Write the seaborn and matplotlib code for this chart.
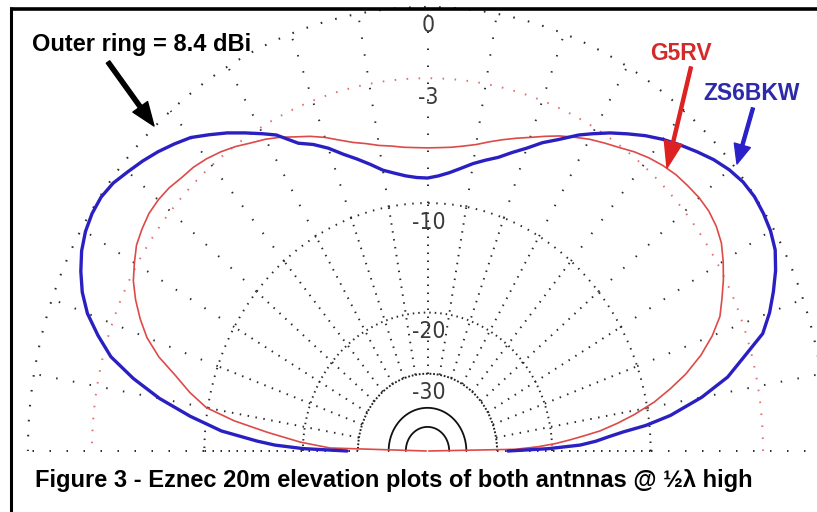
import numpy as np
import matplotlib
matplotlib.use("Agg")
import matplotlib.pyplot as plt
from matplotlib.lines import Line2D
import seaborn as sns
import pandas as pd

# ---------------- data (elevation angle in degrees, gain in dB relative to 8.4 dBi) ----------------
zs_angles = [0, 1, 2, 3, 4, 5, 6, 7.5, 10, 12.5, 15, 17.5, 20, 22.5, 25, 27.5, 30, 32.5, 35, 37.5, 40,
             42.5, 45, 47.5, 50, 52.5, 55, 57.5, 60, 62, 65, 67.5, 70, 72.5, 75, 77.5, 80, 82.5, 85,
             87.5, 90, 92.5, 95, 97.5, 100, 102.5, 105, 107.5, 110, 112.5, 115, 118, 120, 122.5, 125,
             127.5, 130, 132.5, 135, 137.5, 140, 142.5, 145, 147.5, 150, 152.5, 155, 157.5, 160,
             162.5, 165, 167.5, 170, 172.5, 175, 177, 178, 179, 180]
zs_db = [-27.5, -20.5, -16.5, -14.8, -13.6, -12.2, -10.3, -8.4, -6.2, -4.5, -3.4, -2.2, -1.6, -1.12,
         -0.68, -0.33, -0.15, -0.06, -0.02, -0.08, -0.25, -0.5, -0.82, -1.15, -1.5, -1.9, -2.35, -2.8,
         -3.3, -3.7, -4.4, -4.9, -5.5, -6.0, -6.5, -6.85, -7.2, -7.6, -7.95, -8.2, -8.35, -8.3, -8.15,
         -7.9, -7.6, -7.1, -6.6, -6.1, -5.5, -5.0, -4.6, -3.7, -3.3, -2.8, -2.3, -1.85, -1.4, -1.1,
         -0.82, -0.58, -0.37, -0.15, -0.05, -0.08, -0.2, -0.42, -0.75, -1.15, -1.7, -2.5, -3.4, -4.85,
         -6.6, -8.8, -11.3, -14.6, -16.5, -20.0, -27.5]

g5_angles = [0, 1, 2, 3, 4, 5, 6, 7.5, 9, 11, 13, 15, 17.5, 20, 22.5, 25, 27.5, 30, 32.5, 35, 37.5, 40,
             42.5, 45, 47.5, 50, 52.5, 55, 57.5, 60, 62.5, 65, 67.5, 70, 72.5, 75, 77.5, 80, 82.5, 85,
             87.5, 90, 92.5, 95, 97.5, 100, 102.5, 105, 107.5, 110, 112.5, 115, 117.5, 120, 122.5, 125,
             127.5, 130, 132.5, 135, 137.5, 140, 142.5, 145, 147.5, 150, 152.5, 155, 157.5, 160, 162.5,
             165, 167.5, 170, 172, 174, 176.4, 178.4, 180]
g5_db = [-99, -26, -22, -19.5, -17.7, -16, -14.3, -12.6, -11.1, -9.4, -8.1, -6.9, -5.7, -4.75, -4.0,
         -3.55, -3.1, -2.7, -2.35, -2.15, -2.05, -2.05, -2.12, -2.2, -2.35, -2.55, -2.8, -3.1, -3.35,
         -3.6, -3.9, -4.2, -4.55, -4.9, -5.2, -5.5, -5.8, -6.1, -6.3, -6.45, -6.52, -6.55, -6.52, -6.45,
         -6.3, -6.15, -5.9, -5.65, -5.3, -4.9, -4.55, -4.25, -3.9, -3.6, -3.35, -3.05, -2.8, -2.6, -2.45,
         -2.38, -2.25, -2.2, -2.22, -2.35, -2.52, -2.85, -3.2, -3.7, -4.3, -5.0, -6.0, -7.35, -8.5,
         -9.9, -12.3, -15.6, -19.6, -24.2, -99]

ring_db = [0, -3, -10, -20, -30, -40, -50]
ring_labels = ["0", "-3", "-10", "-20", "-30"]
spoke_angles = list(range(0, 181, 10))

outer_ring_text = "Outer ring = 8.4 dBi"
series_names = ["G5RV", "ZS6BKW"]
caption = "Figure 3 - Eznec 20m elevation plots of both antnnas @ \u00bd\u03bb high"

# ---------------- helpers ----------------
def arrl_radius(db):
    """ARRL log scale: 0.89 per 2 dB."""
    return 0.89 ** (-np.asarray(db, dtype=float) / 2.0)

def to_xy(angles, db):
    r = arrl_radius(db)
    t = np.deg2rad(np.asarray(angles, dtype=float))
    return r * np.cos(t), r * np.sin(t)

W, H = 817, 512
DPI = 100
BLUE = "#2a20c2"
RED_LINE = "#dd4a48"
RED_TXT = "#d42a2a"
BLUE_TXT = "#2c2aa8"

sns.set_theme(style="white")
plt.rcParams["lines.scale_dashes"] = False

fig = plt.figure(figsize=(W / DPI, H / DPI), dpi=DPI, facecolor="white")
ax = fig.add_axes([0, 0, 1, 1])
ax.set_facecolor("white")

# pixel geometry of the plot: centre at (427.5, 451), 0 dB ring radius 444 px vertically,
# horizontally compressed by 0.9 as in the original screenshot
cx, cy, R, sx = 427.5, 451.0, 444.0, 0.9
XLIM = (-cx / (R * sx), (W - cx) / (R * sx))
YLIM = (-(H - cy) / R, cy / R)

PX = 72.0 / DPI  # points per pixel


def dots(period_px, on_px=1.4):
    return (0, (on_px * PX, (period_px - on_px) * PX))


# ---------------- grid ----------------
th = np.linspace(0, np.pi, 1200)
ring_styles = {
    0: dict(color="#2a2a2a", lw=1.5, ls=dots(15, 1.6)),
    -3: dict(color="#e07070", lw=1.4, ls=dots(12, 1.6)),
    -10: dict(color="#2a2a2a", lw=1.4, ls=dots(8, 1.5)),
    -20: dict(color="#2a2a2a", lw=1.4, ls=dots(5.5, 1.5)),
    -30: dict(color="#222222", lw=1.4, ls=dots(3.6, 1.8)),
    -40: dict(color="#111111", lw=1.3, ls="-"),
    -50: dict(color="#111111", lw=1.3, ls="-"),
}
for d in ring_db:
    r = arrl_radius(d)
    ax.plot(r * np.cos(th), r * np.sin(th), zorder=1, **ring_styles[d])

r30, r10 = arrl_radius(-30), arrl_radius(-10)
for a in spoke_angles:
    t = np.deg2rad(a)
    ax.plot([r30 * np.cos(t), r10 * np.cos(t)], [r30 * np.sin(t), r10 * np.sin(t)],
            color="#2a2a2a", lw=1.4, ls=dots(8, 1.5), zorder=1)
    ax.plot([r10 * np.cos(t), np.cos(t)], [r10 * np.sin(t), np.sin(t)],
            color="#2a2a2a", lw=1.4, ls=dots(17, 1.5), zorder=1)

for d, lab in zip(ring_db, ring_labels):
    ax.annotate(lab, xy=(0, arrl_radius(d)), xytext=(1, -19), textcoords="offset pixels",
                ha="center", va="center", fontsize=16.5, color="#3a3a3a",
                family="DejaVu Sans", fontstretch="condensed", zorder=2)

# ---------------- patterns ----------------
gx, gy = to_xy(g5_angles, g5_db)
bx, by = to_xy(zs_angles, zs_db)
df_g5 = pd.DataFrame({"x": gx, "y": gy})
df_zs = pd.DataFrame({"x": bx, "y": by})
sns.lineplot(data=df_g5, x="x", y="y", sort=False, estimator=None, color=RED_LINE, lw=1.2,
             ax=ax, zorder=3)
sns.lineplot(data=df_zs, x="x", y="y", sort=False, estimator=None, color=BLUE, lw=2.4,
             ax=ax, zorder=4)
ax.set_xlim(*XLIM)
ax.set_ylim(*YLIM)
ax.set_aspect("auto")
ax.axis("off")

# ---------------- annotations ----------------
def fx(x):
    return x / W

def fy(y):
    return 1 - y / H

fig.text(fx(32), fy(44), outer_ring_text, fontsize=17, fontweight="bold", color="black",
         family="Liberation Sans", ha="left", va="center")
fig.text(fx(681), fy(54), series_names[0], fontsize=16.5, fontweight="bold", color=RED_TXT,
         family="Liberation Sans", ha="center", va="center")
fig.text(fx(752), fy(93), series_names[1], fontsize=16.5, fontweight="bold", color=BLUE_TXT,
         family="Liberation Sans", ha="center", va="center")
fig.text(fx(35), fy(481), caption, fontsize=17, fontweight="bold", color="black",
         family="Liberation Sans", ha="left", va="center")


def arrow(tail, tip, color, width, hw, hl):
    ax.annotate("", xy=(tip[0], H - tip[1]), xytext=(tail[0], H - tail[1]),
                xycoords="figure pixels", textcoords="figure pixels",
                arrowprops=dict(facecolor=color, edgecolor=color, width=width, headwidth=hw,
                                headlength=hl, shrink=0), zorder=6)


arrow((108, 62), (154, 126), "black", 3.0, 13, 17)
arrow((691, 67), (667, 168), "#dd2222", 2.2, 13, 19)
arrow((753, 108), (737, 164), "#2a22c8", 2.2, 12, 14)

# ---------------- frame ----------------
fig.add_artist(Line2D([fx(10), 1], [fy(8.5), fy(8.5)], transform=fig.transFigure, color="black",
                      lw=2.6, solid_capstyle="butt"))
fig.add_artist(Line2D([fx(10.5), fx(10.5)], [fy(7.2), 0], transform=fig.transFigure, color="black",
                      lw=2.2, solid_capstyle="butt"))

fig.savefig("out.png", dpi=DPI, facecolor="white")
